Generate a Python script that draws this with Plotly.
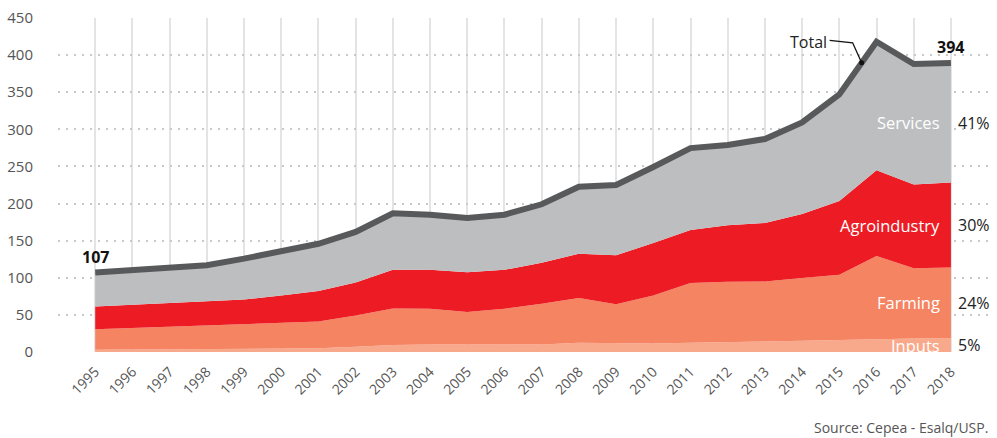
import plotly.graph_objects as go

# ---------------- data ----------------
years = list(range(1995, 2019))
inputs = [3.1, 3.3, 3.5, 3.5, 3.8, 4.2, 4.9, 7.0, 9.3, 10.2, 10.2, 9.3,
          10.2, 12.4, 11.6, 11.6, 12.6, 13.8, 14.2, 15.1, 16.4, 17.8, 18.2, 18.7]
farming = [27.6, 29.1, 30.3, 31.6, 33.7, 34.3, 36.1, 42.3, 49.4, 48.0, 43.6, 48.9,
           54.7, 60.5, 52.8, 64.4, 80.4, 80.9, 80.7, 84.5, 87.6, 111.5, 94.7, 95.1]
agroindustry = [30.6, 31.2, 31.5, 32.5, 33.2, 37.5, 41.2, 44.5, 52.0, 52.5, 53.8, 52.5,
                55.5, 59.5, 65.8, 71.0, 71.3, 76.0, 78.9, 86.2, 99.6, 115.6, 112.9, 114.6]
services = [45.7, 46.4, 47.1, 49.4, 55.1, 60.0, 63.6, 68.0, 76.3, 74.3, 72.8, 74.3,
            78.6, 90.3, 94.8, 102.3, 110.4, 108.3, 113.2, 123.5, 143.4, 173.1, 162.2, 160.9]
segment_names = ["Inputs", "Farming", "Agroindustry", "Services"]
segment_colors = ["#f9a98b", "#f48462", "#ed1c24", "#bcbec0"]
share_labels = ["5%", "24%", "30%", "41%"]
end_labels = ["107", "394"]
y_ticks = list(range(0, 451, 50))
source_text = "Source: Cepea - Esalq/USP."

segments = [inputs, farming, agroindustry, services]
total = [sum(v) for v in zip(*segments)]

FONT = "Open Sans"
fig = go.Figure()

for name, vals, col in zip(segment_names, segments, segment_colors):
    fig.add_trace(go.Scatter(
        x=years, y=vals, name=name, stackgroup="one", mode="lines",
        line=dict(width=0, color=col), fillcolor=col, hoverinfo="x+y+name"))

fig.add_trace(go.Scatter(
    x=years, y=total, name="Total", mode="lines",
    line=dict(color="#58595b", width=6)))

# callout point on the total line between 2015 and 2016
i15 = years.index(2015)
frac = 0.6
xa = years[i15] + frac
ya = total[i15] + frac * (total[i15 + 1] - total[i15])
fig.add_trace(go.Scatter(x=[xa], y=[ya], mode="markers",
                         marker=dict(color="#111", size=5), hoverinfo="skip"))

annotations = []
# layer labels + shares at the right end
cum = 0
last = len(years) - 1
for name, vals, share in zip(segment_names, segments, share_labels):
    mid = cum + vals[last] / 2
    cum += vals[last]
    annotations.append(dict(x=years[last], y=mid, text=name, showarrow=False,
                            xanchor="right", yanchor="middle", xshift=-9,
                            font=dict(family=FONT, size=16.5, color="white")))
    annotations.append(dict(x=years[last], y=mid, text=share, showarrow=False,
                            xanchor="left", yanchor="middle", xshift=5,
                            font=dict(family=FONT, size=16, color="#222")))

# end value labels
for idx, lab in zip([0, last], end_labels):
    annotations.append(dict(x=years[idx], y=total[idx], text="<b>" + lab + "</b>",
                            showarrow=False, xanchor="center", yanchor="middle",
                            yshift=16, font=dict(family=FONT, size=16, color="#111")))

# "Total" callout text
annotations.append(dict(x=xa, y=ya, text="Total", showarrow=False,
                        xanchor="right", yanchor="middle", xshift=-33, yshift=21,
                        font=dict(family=FONT, size=16, color="#222")))

annotations.append(dict(xref="paper", yref="paper", x=1, y=-0.225, text=source_text,
                        showarrow=False, xanchor="right", yanchor="middle",
                        font=dict(family=FONT, size=14, color="#555")))

fig.update_layout(
    width=997, height=438,
    margin=dict(l=58, r=7, t=14, b=86),
    paper_bgcolor="white", plot_bgcolor="white",
    showlegend=False,
    annotations=annotations,
    shapes=[dict(type="path", xref="x", yref="y", xsizemode="pixel", ysizemode="pixel",
                 xanchor=xa, yanchor=ya, path="M -32 22.5 L -9 20 L 0 0",
                 line=dict(color="#111", width=1.3))],
    xaxis=dict(range=[1994, 2019.05], tickvals=years, ticktext=[str(y) for y in years],
               tickangle=-45, showgrid=True, gridcolor="#e4e4e4", gridwidth=1.5,
               zeroline=False, showline=False, ticks="", ticklabelstandoff=8,
               tickfont=dict(family=FONT, size=14, color="#555")),
    yaxis=dict(range=[0, 450], tickvals=y_ticks, showgrid=True, gridcolor="#c8c8c8",
               griddash="2px,6px", gridwidth=2, zeroline=False, showline=False, ticks="",
               ticklabelstandoff=24,
               tickfont=dict(family=FONT, size=15, color="#555")),
)

fig.write_html("out.html", config={"displayModeBar": False},
               post_script="document.body.style.margin='0px';document.body.style.overflow='hidden';")
